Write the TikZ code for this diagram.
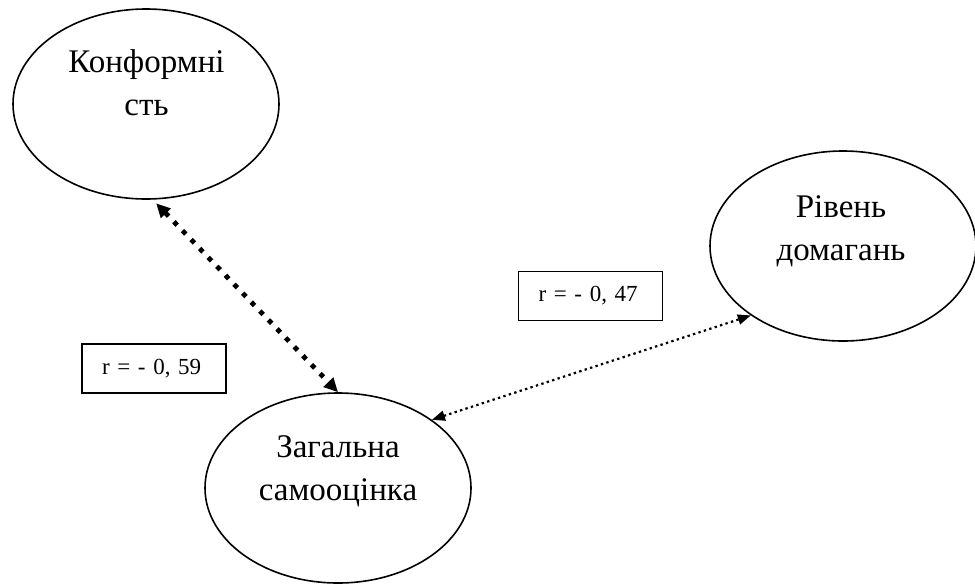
\documentclass[tikz,border=0pt]{standalone}
\usepackage{fontspec}
\setmainfont{Liberation Serif}
\usetikzlibrary{arrows.meta,shapes.geometric}

\begin{document}
\begin{tikzpicture}[x=0.5pt, y=-0.5pt,
    oval/.style={draw, ellipse, line width=0.8pt, minimum width=133pt, minimum height=95pt, inner sep=0pt},
    ovaltext/.style={align=center, anchor=base, font=\fontsize{16.5}{21.5}\selectfont},
    rbox/.style={draw, line width=0.7pt, minimum height=24.5pt, inner ysep=0pt, inner xsep=10pt,
        text width=52pt, align=left, font=\fontsize{11.5}{14}\selectfont},
    bigdots/.style={line width=2.4pt, dash pattern=on 2.4pt off 3.8pt,
        {Triangle[length=7pt,width=6.5pt]}-{Triangle[length=7pt,width=6.5pt]}},
    smalldots/.style={line width=1.1pt, dash pattern=on 1.2pt off 1.65pt,
        {Triangle[length=6.5pt,width=5pt]}-{Triangle[length=6.5pt,width=5pt]}}]
    \useasboundingbox (0,0) rectangle (975,585);
    % ovals
    \node[oval] (konf) at (146,104) {};
    \node[oval] (rang) at (843,246) {};
    \node[oval] (zag) at (338,488) {};
    \node[ovaltext] (konf text) at (146.5,115) {Конформні\\сть};
    \node[ovaltext] (rang text) at (841,260) {Рівень\\домагань};
    \node[ovaltext] (zag text) at (338,500) {Загальна\\самооцінка};
    % correlations
    \node[rbox] (r59) at (154,368.5) {r = - 0, 59};
    \node[rbox] (r47) at (590.5,296) {r = - 0, 47};
    \draw[bigdots, shorten <=2.5pt] (konf.-86) -- (zag.north);
    \draw[smalldots] (zag.36) -- (rang.217);
\end{tikzpicture}
\end{document}
